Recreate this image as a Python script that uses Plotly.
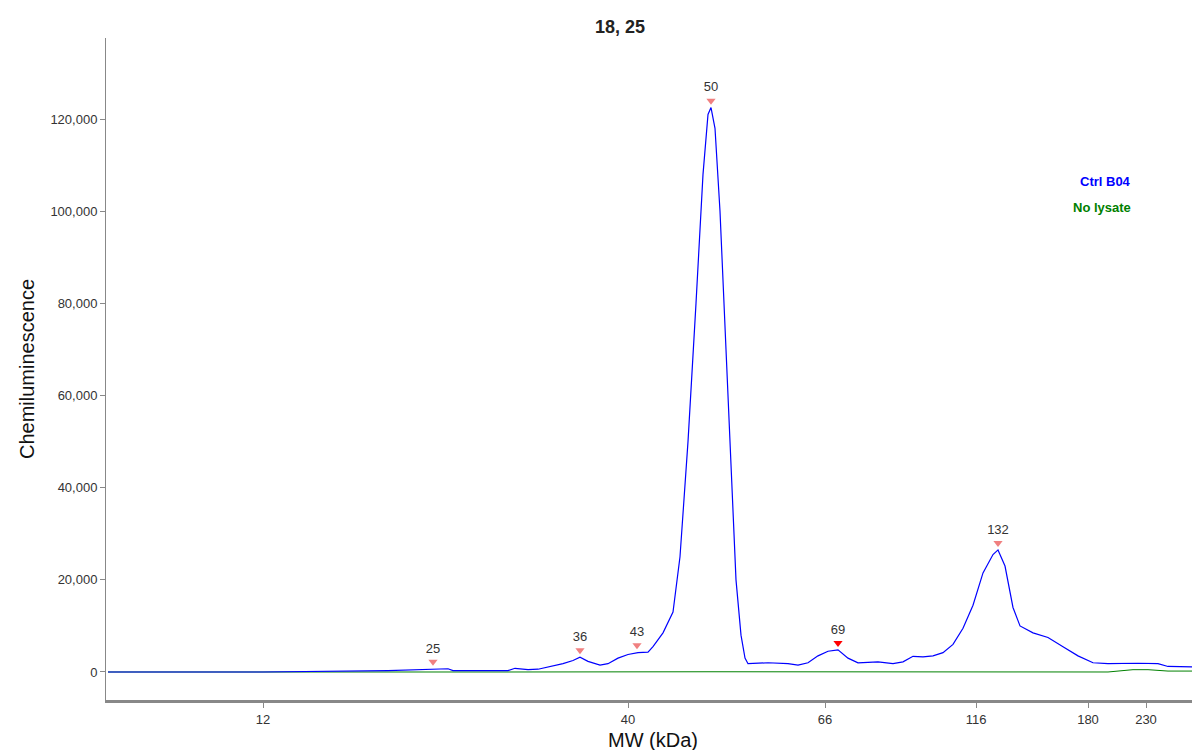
import plotly.graph_objects as go

# x = lane position, y = chemiluminescence
blue_pos = [100,255,380,425,440,445,500,507,520,530,540,555,565,572,580,592,600,610,620,630,640,645,655,665,672,680,688,695,700,703,707,712,718,724,728,733,737,740,760,780,790,800,810,820,830,840,850,870,885,895,905,915,925,935,945,955,965,975,985,990,997,1005,1012,1025,1040,1055,1070,1085,1100,1130,1150,1160,1190]
blue_val = [0,0,300,700,700,300,300,800,500,600,1100,1800,2500,3200,2300,1500,1800,3000,3800,4200,4300,5500,8500,13000,25000,50000,80000,108000,121000,122500,118000,100000,70000,40000,20000,8000,3000,1800,2000,1800,1500,2000,3500,4500,4800,3000,2000,2200,1800,2200,3400,3300,3500,4200,6000,9500,14500,21500,25500,26500,23000,14000,10000,8500,7500,5500,3500,2000,1800,1900,1800,1200,1100]
green_pos = [100,300,500,700,900,1000,1100,1125,1140,1160,1190]
green_val = [0,-50,0,50,0,50,0,500,500,200,200]
tick_pos = [255,620,817,968,1080,1138]
tick_lbl = ["12","40","66","116","180","230"]
peak_pos = [425,572,629,830,990,703]
peak_val = [700,3200,4300,4800,26500,122500]
peak_lbl = ["25","36","43","69","132","50"]
peak_col = ["#f08080","#f08080","#f08080","#ff0000","#f08080","#f08080"]

fig = go.Figure()
fig.add_trace(go.Scatter(x=green_pos, y=green_val, mode="lines", line=dict(color="#008000", width=1)))
fig.add_trace(go.Scatter(x=blue_pos, y=blue_val, mode="lines", line=dict(color="#0000ff", width=1.2)))
fig.add_trace(go.Scatter(x=peak_pos, y=[v + 1500 for v in peak_val], mode="markers+text",
    marker=dict(symbol="triangle-down", size=8, color=peak_col),
    text=peak_lbl, textposition="top center", textfont=dict(size=13, color="#333"), cliponaxis=False))

fig.add_annotation(x=1125, y=106500, text="<b>Ctrl B04</b>", showarrow=False, xanchor="right",
                   font=dict(color="#0000ff", size=13))
fig.add_annotation(x=1125, y=100800, text="<b>No lysate</b>", showarrow=False, xanchor="right",
                   font=dict(color="#008000", size=13))

fig.update_layout(
    width=1200, height=750, showlegend=False, plot_bgcolor="white", paper_bgcolor="white",
    margin=dict(l=98, r=8, t=30, b=58),
    font=dict(family="Liberation Sans, Arial", size=13, color="#333"),
    title=dict(text="<b>18, 25</b>", x=0.51, y=0.983, xanchor="center", font=dict(size=18, color="#222")),
    xaxis=dict(range=[98, 1192], tickvals=tick_pos, ticktext=tick_lbl, showgrid=False, zeroline=False,
               showline=True, linecolor="#888", linewidth=3, ticks="outside", ticklen=5, tickcolor="#888",
               title=dict(text="MW (kDa)", font=dict(size=20, color="#111"), standoff=8)),
    yaxis=dict(range=[-6080, 137600], tickvals=[0,20000,40000,60000,80000,100000,120000], tickformat=",",
               showgrid=False, zeroline=False, showline=True, linecolor="#888", linewidth=1,
               ticks="outside", ticklen=5, tickcolor="#888",
               title=dict(text="Chemiluminescence", font=dict(size=20, color="#111"), standoff=10)),
)
fig.write_html("out.html")
